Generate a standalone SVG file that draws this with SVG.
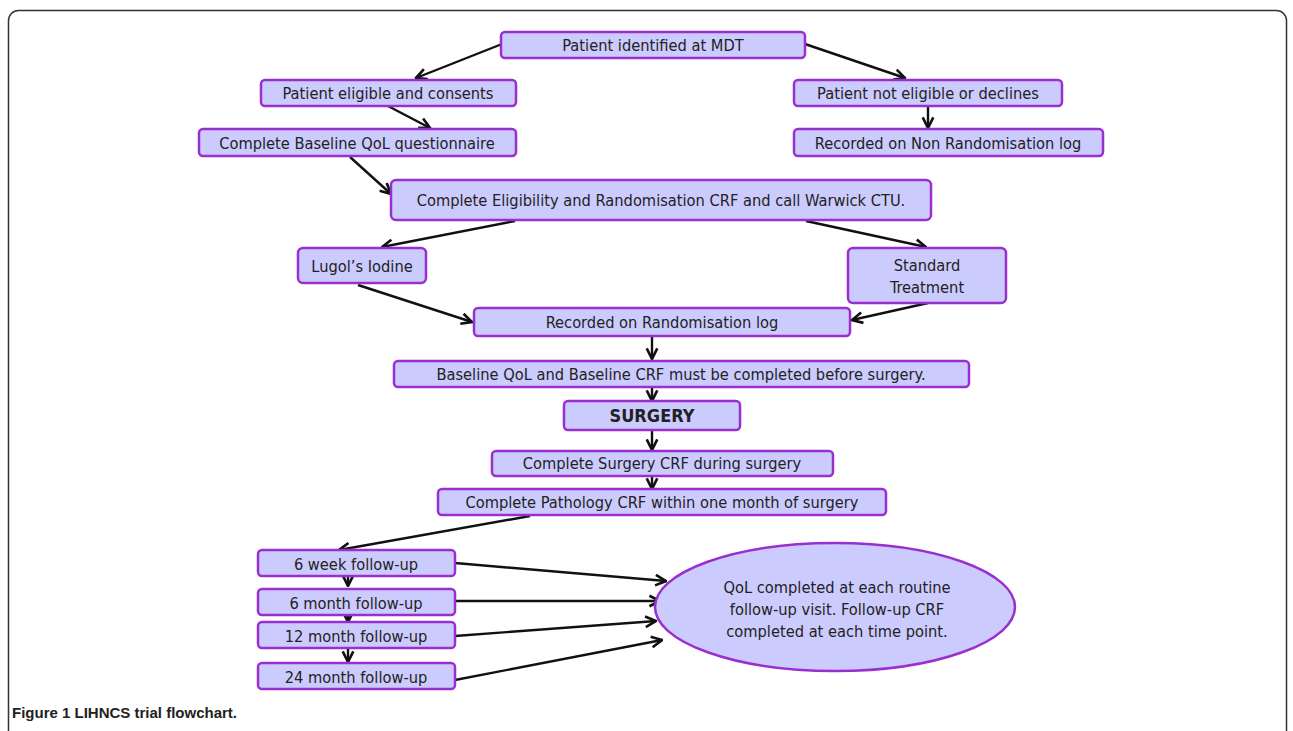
<svg xmlns="http://www.w3.org/2000/svg" width="1293" height="731" viewBox="0 0 1293 731">
<defs>
<style>
.n{fill:#cccbfd;stroke:#9a2fd0;stroke-width:2.5}
.t{font-family:"DejaVu Sans Condensed","DejaVu Sans",sans-serif;font-size:16.3px;fill:#222;text-anchor:middle}
.c line{stroke:#111;stroke-width:2.4;marker-end:url(#ah)}
</style>
<marker id="ah" viewBox="0 0 10 10" refX="9" refY="5" markerWidth="5.5" markerHeight="5.5" orient="auto" markerUnits="strokeWidth">
<path d="M1,1 L9,5 L1,9" fill="none" stroke="#111" stroke-width="2"/>
</marker>
</defs>
<rect x="0" y="0" width="1293" height="731" fill="#fff"/>
<rect x="8.5" y="10.5" width="1278" height="760" rx="10" fill="none" stroke="#333" stroke-width="1.5"/>

<g class="c">
<line x1="502" y1="44" x2="416" y2="78"/>
<line x1="805" y1="44" x2="905" y2="78"/>
<line x1="388" y1="106" x2="430" y2="128"/>
<line x1="928" y1="106" x2="928" y2="128"/>
<line x1="350" y1="157" x2="391" y2="194"/>
<line x1="515" y1="221" x2="382" y2="247"/>
<line x1="806" y1="221" x2="926" y2="247"/>
<line x1="358" y1="285" x2="472" y2="322"/>
<line x1="928" y1="303" x2="852" y2="320"/>
<line x1="652" y1="336" x2="652" y2="359"/>
<line x1="652" y1="388" x2="652" y2="401"/>
<line x1="652" y1="430" x2="652" y2="450"/>
<line x1="652" y1="460" x2="652" y2="489"/>
<line x1="530" y1="516" x2="339" y2="550"/>
<line x1="348" y1="566" x2="348" y2="586"/>
<line x1="348" y1="606" x2="348" y2="622"/>
<line x1="348" y1="642" x2="348" y2="662"/>
<line x1="455" y1="563" x2="666" y2="581"/>
<line x1="455" y1="601" x2="660" y2="601"/>
<line x1="455" y1="636" x2="656" y2="621"/>
<line x1="455" y1="680" x2="662" y2="640"/>
</g>

<g id="mdt"><rect class="n" x="501" y="32" width="304" height="26" rx="4"/><text class="t" x="653" y="50.5">Patient identified at MDT</text></g>
<g id="eligible"><rect class="n" x="261" y="80" width="255" height="26" rx="4"/><text class="t" x="388" y="98.5">Patient eligible and consents</text></g>
<g id="noteligible"><rect class="n" x="794" y="80" width="268" height="26" rx="4"/><text class="t" x="928" y="98.5">Patient not eligible or declines</text></g>
<g id="baselineqol"><rect class="n" x="199" y="129" width="317" height="27" rx="4"/><text class="t" x="357" y="148.5">Complete Baseline QoL questionnaire</text></g>
<g id="nonrand"><rect class="n" x="794" y="129" width="309" height="27" rx="4"/><text class="t" x="948" y="148.5">Recorded on Non Randomisation log</text></g>
<g id="elig-crf"><rect class="n" x="391" y="180" width="540" height="40" rx="5"/><text class="t" x="661" y="206">Complete Eligibility and Randomisation CRF and call Warwick CTU.</text></g>
<g id="lugol"><rect class="n" x="298" y="248" width="128" height="35" rx="5"/><text class="t" x="362" y="271.5">Lugol’s Iodine</text></g>
<g id="standard"><rect class="n" x="848" y="248" width="158" height="55" rx="5"/><text class="t" x="927" y="271">Standard</text><text class="t" x="927" y="293">Treatment</text></g>
<g id="randlog"><rect class="n" x="474" y="308" width="376" height="28" rx="4"/><text class="t" x="662" y="328">Recorded on Randomisation log</text></g>
<g id="baseline"><rect class="n" x="394" y="361" width="575" height="26" rx="4"/><text class="t" x="681" y="380">Baseline QoL and Baseline CRF must be completed before surgery.</text></g>
<g id="surgery"><rect class="n" x="564" y="401" width="176" height="29" rx="4"/><text class="t" x="652" y="422" style="font-weight:bold;font-size:18px">SURGERY</text></g>
<g id="surgerycrf"><rect class="n" x="492" y="451" width="341" height="25" rx="4"/><text class="t" x="662" y="469">Complete Surgery CRF during surgery</text></g>
<g id="pathology"><rect class="n" x="438" y="489" width="448" height="26" rx="4"/><text class="t" x="662" y="508">Complete Pathology CRF within one month of surgery</text></g>
<g id="fu6w"><rect class="n" x="258" y="550" width="197" height="26" rx="4"/><text class="t" x="356" y="569.5">6 week follow-up</text></g>
<g id="fu6m"><rect class="n" x="258" y="589" width="197" height="26" rx="4"/><text class="t" x="356" y="608.5">6 month follow-up</text></g>
<g id="fu12m"><rect class="n" x="258" y="622" width="197" height="26" rx="4"/><text class="t" x="356" y="641.5">12 month follow-up</text></g>
<g id="fu24m"><rect class="n" x="258" y="663" width="197" height="26" rx="4"/><text class="t" x="356" y="682.5">24 month follow-up</text></g>
<g id="qol"><ellipse class="n" cx="835" cy="607" rx="180" ry="64"/><text class="t" x="837" y="593">QoL completed at each routine</text><text class="t" x="837" y="615">follow-up visit. Follow-up CRF</text><text class="t" x="837" y="637">completed at each time point.</text></g>

<text x="12" y="718" style="font-family:'Liberation Sans',Arial,sans-serif;font-size:15px;font-weight:bold;fill:#222">Figure 1 LIHNCS trial flowchart.</text>
</svg>
